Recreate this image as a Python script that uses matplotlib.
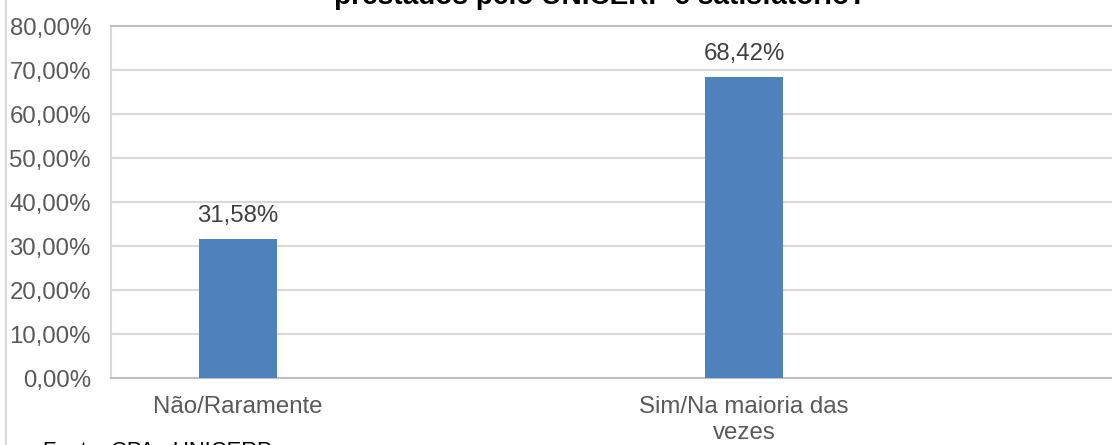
import matplotlib
matplotlib.use('Agg')
import matplotlib.pyplot as plt
from matplotlib.lines import Line2D

plt.rcParams['font.family'] = ['Liberation Sans', 'DejaVu Sans']

# dados
categorias = ['Não/Raramente', 'Sim/Na maioria das\nvezes']
valores = [31.58, 68.42]
rotulos = ['31,58%', '68,42%']
yticks = [0, 10, 20, 30, 40, 50, 60, 70, 80]
ytick_labels = ['0,00%', '10,00%', '20,00%', '30,00%', '40,00%',
                '50,00%', '60,00%', '70,00%', '80,00%']

blue = '#4F81BD'
grid = '#D9D9D9'
axis_gray = '#BFBFBF'
txt = '#595959'

fig = plt.figure(figsize=(11.12, 4.45), dpi=100)
ax = fig.add_axes([111 / 1112, 1 - 378 / 445, 1 - 111 / 1112, (378 - 26) / 445])

x = list(range(len(categorias)))
ax.bar(x, valores, width=0.155, color=blue, zorder=3)

for xi, v, lab in zip(x, valores, rotulos):
    ax.annotate(lab, (xi, v), xytext=(0, 12), textcoords='offset points',
                ha='center', va='baseline', fontsize=17.3, color='#404040')

ax.set_xlim(-0.251, 1.727)
ax.set_ylim(0, 80)
ax.set_yticks(yticks)
ax.set_yticklabels(ytick_labels)
ax.set_xticks(x)
ax.set_xticklabels(categorias, linespacing=1.22)
ax.tick_params(axis='y', length=0, pad=14.4, labelsize=17.3, labelcolor=txt)
ax.tick_params(axis='x', length=0, pad=13, labelsize=17.3, labelcolor=txt)

ax.yaxis.grid(True, color=grid, linewidth=1.5, zorder=0)
ax.set_axisbelow(True)
ax.spines['right'].set_visible(False)
ax.spines['top'].set_color(axis_gray)
ax.spines['top'].set_linewidth(1.5)
ax.spines['left'].set_color(grid)
ax.spines['left'].set_linewidth(1.5)
ax.spines['bottom'].set_color(axis_gray)
ax.spines['bottom'].set_linewidth(1.5)

# titulo (cortado no topo, como na imagem original)
fig.text(600 / 1112, 1 - 4 / 445, 'prestados pelo UNICERP é satisfatório?',
         ha='center', va='baseline', fontsize=20.2, fontweight='bold', color='black')

# fonte (cortada embaixo)
fig.text(43 / 1112, 1 - 457 / 445, 'Fonte: CPA - UNICERP',
         ha='left', va='baseline', fontsize=15.8, color='black')

# borda do grafico
fig.add_artist(Line2D([5.5 / 1112, 5.5 / 1112], [0, 1], transform=fig.transFigure,
                      color=grid, linewidth=1.5))

fig.savefig('out.png', dpi=100)
